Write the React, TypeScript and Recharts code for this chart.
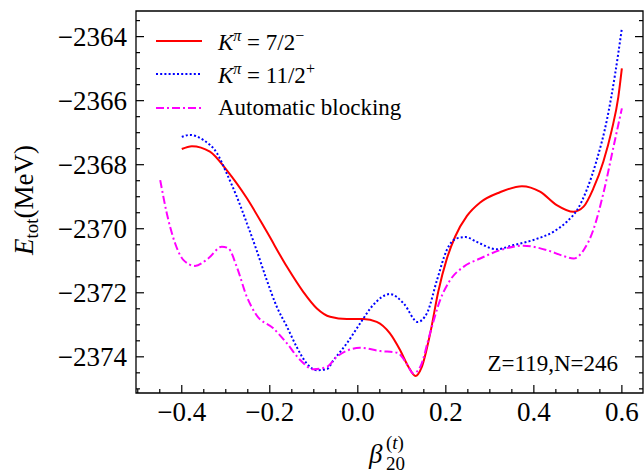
import { LineChart, Line, XAxis, YAxis, Legend, ReferenceArea } from "recharts";

const FONT = "'Liberation Serif', 'DejaVu Serif', serif";

// K^pi = 7/2^-  (red, solid)
const betaRed = [-0.4, -0.377, -0.336, -0.298, -0.252, -0.207, -0.161, -0.124, -0.093, -0.063, -0.025, 0.013, 0.043, 0.073, 0.096, 0.115, 0.131, 0.145, 0.164, 0.183, 0.202, 0.221, 0.248, 0.278, 0.323, 0.373, 0.414, 0.452, 0.49, 0.513, 0.535, 0.558, 0.577, 0.592, 0.6];
const energyRed = [-2367.51, -2367.42, -2367.59, -2368.17, -2369.05, -2370.09, -2371.19, -2371.97, -2372.49, -2372.75, -2372.82, -2372.82, -2372.91, -2373.27, -2373.79, -2374.31, -2374.6, -2374.33, -2373.3, -2371.95, -2370.95, -2370.25, -2369.6, -2369.18, -2368.86, -2368.67, -2368.84, -2369.26, -2369.47, -2369.31, -2368.75, -2367.9, -2366.92, -2365.88, -2364.99];

// K^pi = 11/2^+  (blue, dotted)
const betaBlue = [-0.4, -0.381, -0.351, -0.32, -0.298, -0.275, -0.252, -0.23, -0.207, -0.184, -0.161, -0.139, -0.116, -0.093, -0.07, -0.055, -0.025, 0.005, 0.035, 0.073, 0.104, 0.136, 0.157, 0.18, 0.202, 0.225, 0.245, 0.27, 0.316, 0.354, 0.399, 0.445, 0.475, 0.498, 0.52, 0.543, 0.566, 0.585, 0.6];
const energyBlue = [-2367.13, -2367.07, -2367.23, -2367.64, -2368.27, -2369.0, -2369.83, -2370.67, -2371.6, -2372.44, -2373.06, -2373.69, -2374.21, -2374.42, -2374.38, -2374.1, -2373.58, -2372.96, -2372.38, -2372.04, -2372.33, -2372.91, -2372.64, -2371.6, -2370.67, -2370.3, -2370.26, -2370.41, -2370.64, -2370.51, -2370.35, -2370.09, -2369.78, -2369.42, -2368.79, -2367.85, -2366.6, -2365.14, -2363.74];

// automatic blocking (magenta, dash-dot)
const betaAuto = [-0.449, -0.434, -0.415, -0.396, -0.37, -0.34, -0.309, -0.294, -0.275, -0.252, -0.23, -0.192, -0.161, -0.131, -0.101, -0.07, -0.048, 0.005, 0.051, 0.089, 0.111, 0.126, 0.142, 0.164, 0.187, 0.21, 0.24, 0.278, 0.323, 0.376, 0.43, 0.467, 0.49, 0.513, 0.535, 0.558, 0.581, 0.6];
const energyAuto = [-2368.48, -2369.52, -2370.46, -2370.98, -2371.16, -2370.93, -2370.56, -2370.61, -2371.19, -2372.13, -2372.7, -2373.11, -2373.58, -2374.1, -2374.39, -2374.31, -2374.0, -2373.72, -2373.82, -2373.87, -2374.21, -2374.52, -2374.31, -2373.27, -2372.23, -2371.6, -2371.19, -2370.93, -2370.67, -2370.53, -2370.67, -2370.85, -2370.93, -2370.67, -2370.04, -2368.89, -2367.44, -2366.24];

const xMajor = [-0.4, -0.2, 0, 0.2, 0.4, 0.6];
const xTicks = [-0.5, -0.45, -0.4, -0.35, -0.3, -0.25, -0.2, -0.15, -0.1, -0.05, 0, 0.05, 0.1, 0.15, 0.2, 0.25, 0.3, 0.35, 0.4, 0.45, 0.5, 0.55, 0.6];
const yMajor = [-2374, -2372, -2370, -2368, -2366, -2364];
const yTicks = [-2375, -2374.5, -2374, -2373.5, -2373, -2372.5, -2372, -2371.5, -2371, -2370.5, -2370, -2369.5, -2369, -2368.5, -2368, -2367.5, -2367, -2366.5, -2366, -2365.5, -2365, -2364.5, -2364, -2363.5];

const xDomain = [-0.504, 0.648];
const yDomain = [-2375.13, -2363.2];

const redData = betaRed.map((x, i) => ({ x, y: energyRed[i] }));
const blueData = betaBlue.map((x, i) => ({ x, y: energyBlue[i] }));
const autoData = betaAuto.map((x, i) => ({ x, y: energyAuto[i] }));

const isMajor = (v: number, majors: number[]) => majors.some((m) => Math.abs(m - v) < 1e-6);
const fmtX = (v: number) => (Math.abs(v) < 1e-9 ? "0.0" : (v < 0 ? "\u2212" : "") + Math.abs(v).toFixed(1));
const fmtY = (v: number) => "\u2212" + Math.abs(v);

function BottomTick(props: any) {
  const x = Number(props.x);
  const y = Number(props.y);
  const major = isMajor(props.payload.value, xMajor);
  return (
    <g>
      <path d={`M${x},${y}V${y - (major ? 8 : 4)}`} stroke="#000" strokeWidth={1.2} fill="none" />
      {major && (
        <text x={x} y={y + 28} textAnchor="middle" fontSize={27} fontFamily={FONT} fill="#000">
          {fmtX(props.payload.value)}
        </text>
      )}
    </g>
  );
}

function TopTick(props: any) {
  const x = Number(props.x);
  const y = Number(props.y);
  const major = isMajor(props.payload.value, xMajor);
  return <path d={`M${x},${y}V${y + (major ? 8 : 4)}`} stroke="#000" strokeWidth={1.2} fill="none" />;
}

function LeftTick(props: any) {
  const x = Number(props.x);
  const y = Number(props.y);
  const major = isMajor(props.payload.value, yMajor);
  return (
    <g>
      <path d={`M${x},${y}H${x + (major ? 8 : 4)}`} stroke="#000" strokeWidth={1.2} fill="none" />
      {major && (
        <text x={x - 9} y={y + 9} textAnchor="end" fontSize={27} fontFamily={FONT} fill="#000">
          {fmtY(props.payload.value)}
        </text>
      )}
    </g>
  );
}

function RightTick(props: any) {
  const x = Number(props.x);
  const y = Number(props.y);
  const major = isMajor(props.payload.value, yMajor);
  return <path d={`M${x},${y}H${x - (major ? 8 : 4)}`} stroke="#000" strokeWidth={1.2} fill="none" />;
}

const supStyle = { fontSize: 16 };
const legendRows = [
  { color: "#ff0000", dash: undefined, label: <><i>K</i><sup style={supStyle}><i>π</i></sup> = 7/2<sup style={supStyle}>−</sup></> },
  { color: "#0000ff", dash: "2 2.2", label: <><i>K</i><sup style={supStyle}><i>π</i></sup> = 11/2<sup style={supStyle}>+</sup></> },
  { color: "#ff00ff", dash: "8 3 2 3", label: <>Automatic blocking</> },
];

function LegendBox() {
  return (
    <div style={{ fontFamily: FONT, fontSize: 23, color: "#000" }}>
      {legendRows.map((r, i) => (
        <div key={i} style={{ display: "flex", alignItems: "center", height: 33.5 }}>
          <svg width={46} height={10} style={{ marginRight: 16 }}>
            <path d="M0,5H46" stroke={r.color} strokeWidth={2} strokeDasharray={r.dash} fill="none" />
          </svg>
          <span style={{ lineHeight: 1, whiteSpace: "nowrap" }}>{r.label}</span>
        </div>
      ))}
    </div>
  );
}

export default function App() {
  return (
    <div style={{ position: "absolute", left: 0, top: 0 }}>
      <LineChart width={644} height={475} margin={{ top: 10, right: 0, bottom: 0, left: 0 }}>
        <XAxis xAxisId="b" type="number" dataKey="x" domain={xDomain} ticks={xTicks} interval={0} allowDataOverflow height={82} tickSize={0} tickMargin={0} tickLine={false} axisLine={false} tick={BottomTick} />
        <XAxis xAxisId="t" orientation="top" type="number" domain={xDomain} ticks={xTicks} interval={0} allowDataOverflow height={1} tickSize={0} tickMargin={0} tickLine={false} axisLine={false} tick={TopTick} />
        <YAxis yAxisId="l" type="number" domain={yDomain} ticks={yTicks} interval={0} allowDataOverflow width={136} tickSize={0} tickMargin={0} tickLine={false} axisLine={false} tick={LeftTick} />
        <YAxis yAxisId="r" orientation="right" type="number" domain={yDomain} ticks={yTicks} interval={0} allowDataOverflow width={1} tickSize={0} tickMargin={0} tickLine={false} axisLine={false} tick={RightTick} />
        <ReferenceArea
          xAxisId="b"
          yAxisId="l"
          x1={xDomain[0]}
          x2={xDomain[1]}
          y1={yDomain[0]}
          y2={yDomain[1]}
          fill="none"
          fillOpacity={0}
          stroke="#000"
          strokeWidth={1.3}
          ifOverflow="visible"
        />
        <Legend layout="vertical" align="center" verticalAlign="middle" content={() => <LegendBox />} wrapperStyle={{ left: 156, top: 24, width: 300, height: 110 }} />
        <Line xAxisId="b" yAxisId="l" data={redData} dataKey="y" type="monotone" stroke="#ff0000" strokeWidth={2} dot={false} isAnimationActive={false} />
        <Line xAxisId="b" yAxisId="l" data={blueData} dataKey="y" type="monotone" stroke="#0000ff" strokeWidth={2} strokeDasharray="2 2.2" dot={false} isAnimationActive={false} />
        <Line xAxisId="b" yAxisId="l" data={autoData} dataKey="y" type="monotone" stroke="#ff00ff" strokeWidth={2} strokeDasharray="8 3 2 3" dot={false} isAnimationActive={false} />
        <text transform="translate(33,200) rotate(-90)" textAnchor="middle" fontSize={27} fontFamily={FONT} fill="#000">
          <tspan fontStyle="italic">E</tspan>
          <tspan fontSize={19} dy={5}>tot</tspan>
          <tspan dy={-5}>(MeV)</tspan>
        </text>
        <text x={369} y={463} fontSize={27} fontFamily={FONT} fontStyle="italic" fill="#000">β</text>
        <text x={386} y={449} fontSize={19} fontFamily={FONT} fill="#000">
          (<tspan fontStyle="italic">t</tspan>)
        </text>
        <text x={386} y={470} fontSize={19} fontFamily={FONT} fill="#000">20</text>
        <text x={618} y={371} textAnchor="end" fontSize={23} fontFamily={FONT} fill="#000">Z=119,N=246</text>
      </LineChart>
    </div>
  );
}
